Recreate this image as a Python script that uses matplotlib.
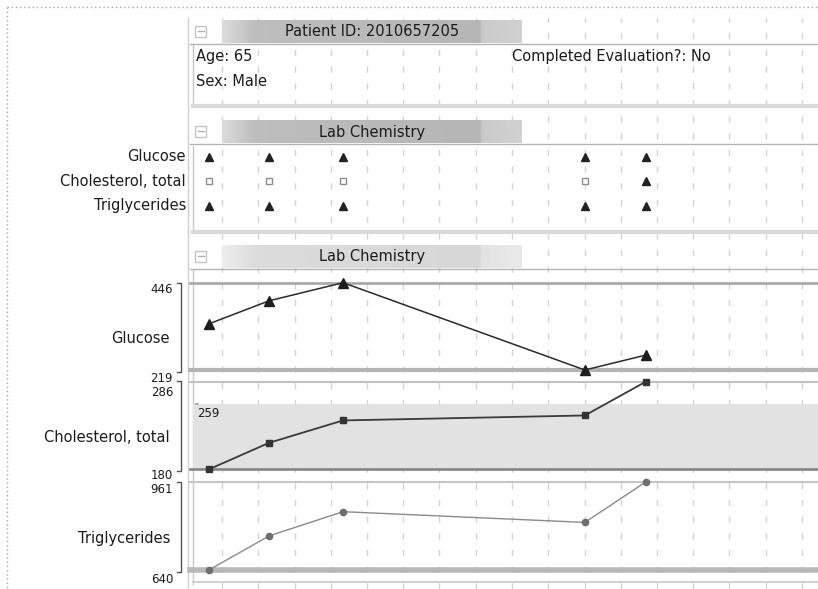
import numpy as np
import matplotlib
matplotlib.use("Agg")
import matplotlib.pyplot as plt
from matplotlib.transforms import blended_transform_factory as blend

# ---- patient / lab data ----
patient_id = "2010657205"
age = 65
sex = "Male"
completed = "No"

tests = ["Glucose", "Cholesterol, total", "Triglycerides"]
visit_month = [0.64, 2.30, 4.34, 11.01, 12.70]
glucose = [339, 399, 446, 219, 258]
cholesterol = [180, 212, 239, 245, 286]
triglycerides = [640, 764, 852, 813, 961]
cholesterol_upper = 259
# H = out of range, N = within range
flags = {
    "Glucose": ["H", "H", "H", "H", "H"],
    "Cholesterol, total": ["N", "N", "N", "N", "H"],
    "Triglycerides": ["H", "H", "H", "H", "H"],
}

plt.rcParams["font.family"] = ["DejaVu Sans"]

W, H = 818, 589
fig = plt.figure(figsize=(W / 100, H / 100), dpi=100)
fig.patch.set_facecolor("white")


def frac(x0, y0, x1, y1):
    return [x0 / W, 1 - y1 / H, (x1 - x0) / W, (y1 - y0) / H]


XL, XR, GRID0, STEP = 190, 818, 222, 36.25


def month(px):
    return 1 + (px - GRID0) / STEP


XLIM = (month(XL), month(XR))
TXT = "#1c1c1c"

# ---- monthly grid behind everything ----
grid = fig.add_axes(frac(XL, 18, XR, 589))
grid.set_xlim(XLIM)
grid.set_ylim(0, 1)
grid.axis("off")
for m in range(1, 18):
    grid.axvline(m, color="#d4d4d4", lw=1, ls=(0, (4.5, 7.5)))

# ---- page chrome ----
base = fig.add_axes([0, 0, 1, 1])
base.set_xlim(0, W)
base.set_ylim(H, 0)
base.axis("off")

base.plot([7, W], [7, 7], color="#a8a8a8", lw=1, ls=(0, (1, 2)))
base.plot([7, 7], [7, H], color="#a8a8a8", lw=1, ls=(0, (1, 2)))
base.plot([188, 188], [18, H], color="#d0d0d0", lw=1)


def header(y0, y1, title, stops):
    xs = np.linspace(222, 522, 300)
    g = np.interp(xs, [222, 256, 480, 483, 522], stops)
    base.imshow(np.tile(g, (2, 1)), extent=(222, 522, y1, y0), aspect="auto",
                cmap="gray", vmin=0, vmax=1, zorder=2, interpolation="bilinear")
    cy = (y0 + y1) / 2
    base.add_patch(plt.Rectangle((195, cy - 6), 11, 11, fill=False,
                                 ec="#c4c4c4", lw=1, zorder=3))
    base.plot([197.5, 203.5], [cy - 0.5, cy - 0.5], color="#b0b0b0", lw=1, zorder=3)
    base.text(372, cy + 0.5, title, ha="center", va="center", fontsize=10.5,
              color=TXT, zorder=4)
    base.plot([190, W], [y1 + 1, y1 + 1], color="#b4b4b4", lw=1, zorder=3)


def box(y0, y1):
    base.plot([193, 193], [y0, y1], color="#c8c8c8", lw=1)
    base.plot([193, W], [y1 + 1, y1 + 1], color="#dadada", lw=3)


# patient section
header(20, 43, f"Patient ID: {patient_id}", [0.86, 0.74, 0.71, 0.79, 0.82])
box(44, 105)
base.text(196, 57, f"Age: {age}", ha="left", va="center", fontsize=10.5, color=TXT)
base.text(196, 82, f"Sex: {sex}", ha="left", va="center", fontsize=10.5, color=TXT)
base.text(512, 57, f"Completed Evaluation?: {completed}", ha="left", va="center",
          fontsize=10.5, color=TXT)

# status matrix section
header(120, 143, "Lab Chemistry", [0.86, 0.74, 0.71, 0.79, 0.82])
box(146, 231)

# trend chart section
header(245, 268, "Lab Chemistry", [0.93, 0.86, 0.84, 0.89, 0.91])
base.plot([193, 193], [270, 584], color="#c8c8c8", lw=1)
base.plot([193, W], [582, 582], color="#d2d2d2", lw=1.5)

# ---- status matrix ----
mat = fig.add_axes(frac(XL, 146, XR, 232))
mat.set_xlim(XLIM)
mat.set_ylim((232 - 157) / 24.5, -(157 - 146) / 24.5)
mat.axis("off")
for row, name in enumerate(tests):
    for xm, f in zip(visit_month, flags[name]):
        if f == "H":
            mat.plot(xm, row, marker="^", ms=6, color="#222222", mec="#222222",
                     ls="none", clip_on=False)
        else:
            mat.plot(xm, row, marker="s", ms=4.5, mfc="white", mec="#8c8c8c",
                     mew=1, ls="none", clip_on=False)
    mat.annotate(name, xy=(186, row), xycoords=(base.transData, mat.transData),
                 ha="right", va="center", fontsize=10.5, color=TXT)

# ---- trend panels ----
panels = [
    ("Glucose", glucose, (282.7, 370.0), (-5, -6),
     dict(color="#2a2a2a", lw=1.1, marker="^", ms=6.5, mfc="#1e1e1e", mec="#1e1e1e")),
    ("Cholesterol, total", cholesterol, (381.5, 469.3), (-8, -4.5),
     dict(color="#3a3a3a", lw=1.3, marker="s", ms=5, mfc="#333333", mec="#333333")),
    ("Triglycerides", triglycerides, (481.7, 570.0), (-5.5, -6.5),
     dict(color="#8a8a8a", lw=1.0, marker="o", ms=4.5, mfc="#6e6e6e", mec="#6e6e6e")),
]

for name, vals, (ytop, ybot), (off_hi, off_lo), style in panels:
    ax = fig.add_axes(frac(XL, ytop, XR, ybot))
    ax.set_xlim(XLIM)
    lo, hi = min(vals), max(vals)
    ax.set_ylim(lo, hi)
    ax.axis("off")
    tx = blend(base.transData, ax.transData)
    bt = blend(base.transData, ax.transAxes)

    if name == "Cholesterol, total":
        ax.fill_between([193, W], lo, cholesterol_upper, transform=tx,
                        color="#e2e2e2", lw=0, zorder=0, clip_on=False)
        ax.axhline(lo, color="#8a8a8a", lw=2, zorder=1, clip_on=False)
        ax.axhline(hi, color="#c2c2c2", lw=1.5, zorder=1, clip_on=False)
        ax.annotate(f"{cholesterol_upper}", xy=(197, cholesterol_upper), xycoords=tx,
                    xytext=(0, -7), textcoords="offset points", ha="left",
                    va="center", fontsize=8.5, color=TXT)
        ax.annotate("", xy=(198, cholesterol_upper), xycoords=tx,
                    xytext=(195.5, cholesterol_upper), textcoords=tx,
                    arrowprops=dict(arrowstyle="-", color="#707070", lw=0.8,
                                    shrinkA=0, shrinkB=0,
                                    connectionstyle="arc3"))
    elif name == "Glucose":
        ax.axhline(hi, color="#aaaaaa", lw=2, zorder=1, clip_on=False)
        ax.axhline(lo, color="#b4b4b4", lw=3, zorder=1, clip_on=False)
    else:
        ax.axhline(hi, color="#c6c6c6", lw=1.5, zorder=1, clip_on=False)
        ax.axhline(lo, color="#b8b8b8", lw=4, zorder=1, clip_on=False)

    ax.plot(visit_month, vals, clip_on=False, zorder=3, **style)

    # bracket spanning the value range
    ax.plot([177, 181, 181, 177], [1, 1, -0.02, -0.02], color="#555555", lw=1,
            transform=bt, clip_on=False)
    ax.annotate(f"{hi}", xy=(173, hi), xycoords=tx, xytext=(0, off_hi),
                textcoords="offset points", ha="right", va="center",
                fontsize=8.5, color=TXT)
    ax.annotate(f"{lo}", xy=(173, lo), xycoords=tx, xytext=(0, off_lo),
                textcoords="offset points", ha="right", va="center",
                fontsize=8.5, color=TXT)
    ax.annotate(name, xy=(170, 0.5), xycoords=bt, xytext=(0, -9),
                textcoords="offset points", ha="right", va="center",
                fontsize=10.5, color=TXT)

fig.savefig("out.png", dpi=100, facecolor="white")
